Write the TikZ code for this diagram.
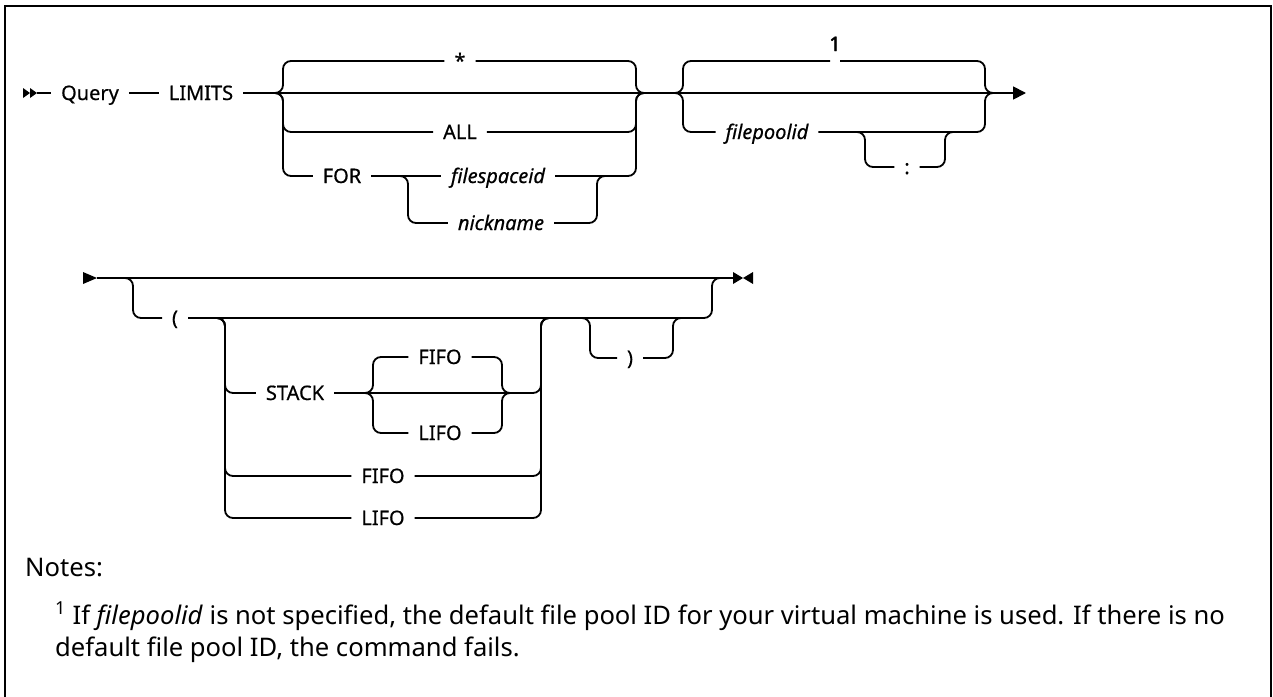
\documentclass[tikz,border=0pt]{standalone}
\usepackage{fontspec}
\setmainfont{Noto Sans}
\newfontfamily\railfont{Noto Sans}[FakeBold=0.6]
\newfontfamily\markfont{Noto Sans}[FakeBold=2]
\usetikzlibrary{arrows.meta,positioning,calc}

\tikzset{
  rail/.style={line width=1.8pt,rounded corners=8pt},
  kw/.style={font=\railfont\fontsize{20}{24}\selectfont,inner xsep=10pt,inner ysep=0pt,
    outer sep=0pt,text height=14pt,text depth=0pt},
  var/.style={kw,font=\railfont\fontsize{20}{24}\selectfont\itshape},
  note/.style={font=\fontsize{25.6}{32}\selectfont,inner sep=0pt,align=left},
}

\begin{document}
\begin{tikzpicture}[x=1pt,y=-1pt]
  \useasboundingbox (0,0) rectangle (1273,696);
  \clip (0,0) rectangle (1273,696);
  \draw[line width=2pt] (5,710) -- (5,6) -- (1271,6) -- (1271,710);

  % first line
  \coordinate (s1) at (23,93);
  \coordinate (e1) at (1026,93);
  \coordinate (g1l) at (283,93);
  \coordinate (g1r) at (636,93);
  \coordinate (n1l) at (408,176);
  \coordinate (n1r) at (597,176);
  \coordinate (g2l) at (683,93);
  \coordinate (g2r) at (985,93);
  \coordinate (n2l) at (865,132);
  \coordinate (n2r) at (945,132);
  \node[kw] (query) at (90,93) {Query};
  \node[kw] (limits) at (201,93) {LIMITS};
  \node[kw] (star) at (460,61) {*};
  \node[kw] (all) at (460,132) {ALL};
  \node[kw] (for) at (342,176) {FOR};
  \node[var] (fsid) at (498,176) {filespaceid};
  \node[var] (nick) at (501,223) {nickname};
  \node[kw,inner xsep=5pt] (dflt) at (835,61) {};
  \node[kw,font=\markfont\fontsize{20}{24}\selectfont,inner xsep=0pt] (one) at (835,44) {1};
  \node[var] (fpid) at (767,132) {filepoolid};
  \node[kw] (colon) at (907,167) {:};

  \fill (s1) ++(0,-5) -- ++(7,5) -- ++(-7,5) -- cycle;
  \fill (s1) ++(7,-5) -- ++(7,5) -- ++(-7,5) -- cycle;
  \draw[rail] ($(s1)+(14,0)$) -- (query);
  \draw[rail] (query) -- (limits);
  \draw[rail,-{Triangle[length=13pt,width=13pt]}] (limits) -- (e1);

  \draw[rail] ($(g1l)+(-10,0)$) -- (g1l) |- (star.west);
  \draw[rail] (star.east) -| (g1r) -- ++(10,0);
  \draw[rail] ($(g1l)+(-10,0)$) -- (g1l) |- (all.west);
  \draw[rail] (all.east) -| (g1r) -- ++(10,0);
  \draw[rail] ($(g1l)+(-10,0)$) -- (g1l) |- (for.west);
  \draw[rail] (for) -- (fsid);
  \draw[rail] (fsid.east) -| (g1r) -- ++(10,0);
  \draw[rail] ($(n1l)+(-10,0)$) -- (n1l) |- (nick.west);
  \draw[rail] (nick.east) -| (n1r) -- ++(10,0);

  \draw[rail] ($(g2l)+(-10,0)$) -- (g2l) |- (dflt.west);
  \draw[rail] (dflt.east) -| (g2r) -- ++(10,0);
  \draw[rail] ($(g2l)+(-10,0)$) -- (g2l) |- (fpid.west);
  \draw[rail] (fpid.east) -| (g2r) -- ++(10,0);
  \draw[rail] ($(n2l)+(-10,0)$) -- (n2l) |- (colon.west);
  \draw[rail] (colon.east) -| (n2r) -- ++(10,0);

  % second line
  \coordinate (s2) at (83,278);
  \coordinate (e2) at (743,278);
  \coordinate (b1) at (133,278);
  \coordinate (b2) at (712,278);
  \coordinate (p1) at (225,318);
  \coordinate (p2) at (541,318);
  \coordinate (q1) at (373,393);
  \coordinate (q2) at (502,393);
  \coordinate (r1) at (590,318);
  \coordinate (r2) at (673,318);
  \node[kw] (lpar) at (175,318) {(};
  \node[kw] (stack) at (295,393) {STACK};
  \node[kw] (fifoa) at (440,357) {FIFO};
  \node[kw] (lifoa) at (440,433) {LIFO};
  \node[kw] (fifob) at (383,476) {FIFO};
  \node[kw] (lifob) at (383,518) {LIFO};
  \node[kw] (rpar) at (630,358) {)};

  \fill (s2) ++(0,-6) -- ++(14,6) -- ++(-14,6) -- cycle;
  \draw[rail] ($(s2)+(14,0)$) -- ($(e2)+(-10,0)$);
  \fill (e2) ++(-10,-6) -- ++(10,6) -- ++(-10,6) -- cycle;
  \fill (e2) ++(10,-6) -- ++(-10,6) -- ++(10,6) -- cycle;

  \draw[rail] ($(b1)+(-10,0)$) -- (b1) |- (lpar.west);
  \draw[rail] (lpar.east) -| (b2) -- ++(10,0);
  \draw[rail] ($(p1)+(-10,0)$) -- (p1) |- (stack.west);
  \draw[rail] (stack.east) -| (p2) -- ++(10,0);
  \draw[rail] ($(p1)+(-10,0)$) -- (p1) |- (fifob.west);
  \draw[rail] (fifob.east) -| (p2) -- ++(10,0);
  \draw[rail] ($(p1)+(-10,0)$) -- (p1) |- (lifob.west);
  \draw[rail] (lifob.east) -| (p2) -- ++(10,0);
  \draw[rail] ($(q1)+(-10,0)$) -- (q1) |- (fifoa.west);
  \draw[rail] (fifoa.east) -| (q2) -- ++(10,0);
  \draw[rail] ($(q1)+(-10,0)$) -- (q1) |- (lifoa.west);
  \draw[rail] (lifoa.east) -| (q2) -- ++(10,0);
  \draw[rail] ($(r1)+(-10,0)$) -- (r1) |- (rpar.west);
  \draw[rail] (rpar.east) -| (r2) -- ++(10,0);

  % notes
  \node[note,anchor=west] (notes) at (25,568) {Notes:};
  \node[note,anchor=base west] (fn) at (55,656)
    {\textsuperscript{1} If \textit{filepoolid} is not specified, the default file pool ID for your virtual machine is used. If there is no\\
     default file pool ID, the command fails.};
\end{tikzpicture}
\end{document}
